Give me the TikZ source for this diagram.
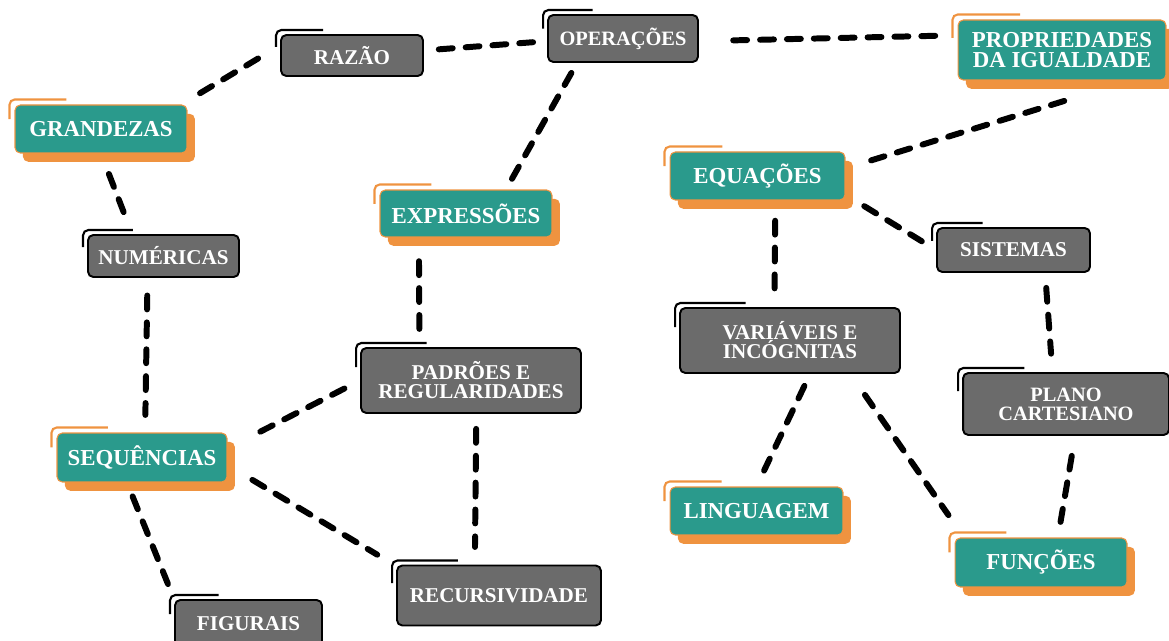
\documentclass[tikz,border=0pt]{standalone}
\usepackage{fontspec}
\setmainfont{Liberation Serif}
\usetikzlibrary{calc,shadows}

\definecolor{boxteal}{HTML}{2A9A8C}
\definecolor{boxorange}{HTML}{EF9340}
\definecolor{boxgray}{HTML}{6B6B6B}

\tikzset{
  conceptbox/.style={rectangle, rounded corners=3pt, align=center, text=white, inner sep=2pt},
  tealbox/.style={conceptbox, fill=boxteal, draw=boxorange, line width=0.6pt,
    font=\bfseries\fontsize{13}{11.7}\selectfont,
    drop shadow={shadow xshift=4.5pt, shadow yshift=-5pt, fill=boxorange, opacity=1}},
  graybox/.style={conceptbox, fill=boxgray, draw=black, line width=1.1pt,
    font=\bfseries\fontsize{12}{10.8}\selectfont},
  smalltext/.style={font=\bfseries\fontsize{11.6}{10.8}\selectfont},
  tealmark/.style={draw=boxorange, line width=1.2pt, rounded corners=3pt},
  graymark/.style={draw=black, line width=1.2pt, rounded corners=3pt},
  link/.style={line width=3.4pt, line cap=round, dash pattern=on 7.9pt off 7.4pt}
}

\begin{document}
\begin{tikzpicture}[x=0.02cm, y=-0.02cm]
  \useasboundingbox (0,0) rectangle (1169,641);

  % teal concepts
  \node[tealbox, minimum width=3.44cm, minimum height=0.96cm] (grandezas) at (101,129) {GRANDEZAS};
  \node[tealbox, minimum width=3.44cm, minimum height=0.94cm] (expressoes) at (466,213.5) {EXPRESSÕES};
  \node[tealbox, minimum width=3.40cm, minimum height=0.98cm] (sequencias) at (142,457.5) {SEQUÊNCIAS};
  \node[tealbox, minimum width=4.16cm, minimum height=1.20cm] (propriedades) at (1062,50) {PROPRIEDADES\\DA IGUALDADE};
  \node[tealbox, minimum width=3.50cm, minimum height=0.96cm] (equacoes) at (757.5,176) {EQUAÇÕES};
  \node[tealbox, minimum width=3.46cm, minimum height=0.96cm] (linguagem) at (756.5,511) {LINGUAGEM};
  \node[tealbox, minimum width=3.44cm, minimum height=0.98cm] (funcoes) at (1041,562.5) {FUNÇÕES};

  % gray concepts
  \node[graybox, minimum width=2.84cm, minimum height=0.82cm] (razao) at (352,55.5) {RAZÃO};
  \node[graybox, smalltext, minimum width=3.00cm, minimum height=0.94cm] (operacoes) at (623,38.5) {OPERAÇÕES};
  \node[graybox, minimum width=3.02cm, minimum height=0.84cm] (numericas) at (163.5,256) {NUMÉRICAS};
  \node[graybox, minimum width=3.06cm, minimum height=0.88cm] (sistemas) at (1013.5,250) {SISTEMAS};
  \node[graybox, minimum width=4.40cm, minimum height=1.30cm] (variaveis) at (790,340.5) {VARIÁVEIS E\\INCÓGNITAS};
  \node[graybox, minimum width=4.40cm, minimum height=1.30cm] (padroes) at (471,380.5) {PADRÕES E\\REGULARIDADES};
  \node[graybox, smalltext, minimum width=4.12cm, minimum height=1.24cm] (plano) at (1066,404) {PLANO\\CARTESIANO};
  \node[graybox, minimum width=4.08cm, minimum height=1.20cm] (recursividade) at (499,595.5) {RECURSIVIDADE};
  \node[graybox, minimum width=2.94cm, minimum height=0.96cm] (figurais) at (248.5,624) {FIGURAIS};

  % corner marks
  \foreach \n in {grandezas,expressoes,sequencias,propriedades,equacoes,linguagem,funcoes}
    \draw[tealmark] ($(\n.north west)!0.3!(\n.south west)+(-5,0)$) |- ($(\n.north west)!0.3!(\n.north east)+(0,-5)$);
  \foreach \n in {razao,operacoes,numericas,sistemas,variaveis,padroes,plano,recursividade,figurais}
    \draw[graymark] ($(\n.north west)!0.3!(\n.south west)+(-4,0)$) |- ($(\n.north west)!0.3!(\n.north east)+(0,-4)$);

  % links
  \draw[link, shorten <=12.5pt, shorten >=11.5pt] (grandezas.17) -- (razao.172);
  \draw[link, shorten <=8.5pt, shorten >=6.5pt] (razao.4) -- (operacoes.182);
  \draw[link, shorten <=19.5pt, shorten >=9pt] (operacoes.358) -- (propriedades.172);
  \draw[link, shorten <=6.5pt, shorten >=6.5pt] (operacoes.208) -- (expressoes.31);
  \draw[link, shorten <=12.5pt, shorten >=11.5pt] (grandezas.south) -- (numericas.145);
  \draw[link, shorten <=10pt, shorten >=10pt] (numericas.234) -- (sequencias.83);
  \draw[link, shorten <=13.5pt, shorten >=8.5pt] (expressoes.207) -- (padroes.147);
  \draw[link, shorten <=10pt, shorten >=15.5pt] (padroes.west) -- (sequencias.6);
  \draw[link, shorten <=16.5pt, shorten >=12.5pt] (sequencias.355) -- (recursividade.164);
  \draw[link, shorten <=8.5pt, shorten >=10pt] (padroes.279) -- (recursividade.128);
  \draw[link, shorten <=8.5pt, shorten >=7.5pt] (sequencias.239) -- (figurais.north west);
  \draw[link, shorten <=39.5pt, shorten >=13.5pt] (propriedades.336) -- (equacoes.5);
  \draw[link, shorten <=12.5pt, shorten >=9.5pt] (equacoes.348) -- (sistemas.west);
  \draw[link, shorten <=11.5pt, shorten >=10.5pt] (equacoes.306) -- (variaveis.115);
  \draw[link, shorten <=8.5pt, shorten >=10.5pt] (sistemas.324) -- (plano.113);
  \draw[link, shorten <=7.5pt, shorten >=10pt] (variaveis.301) -- (linguagem.north);
  \draw[link, shorten <=14.5pt, shorten >=15.5pt] (variaveis.331) -- (funcoes.162);
  \draw[link, shorten <=11.5pt, shorten >=9pt] (plano.286) -- (funcoes.56);
\end{tikzpicture}
\end{document}
